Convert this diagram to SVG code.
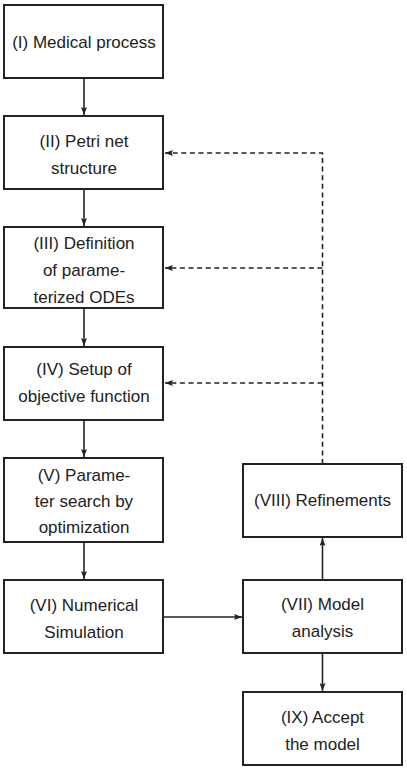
<svg xmlns="http://www.w3.org/2000/svg" width="407" height="770" viewBox="0 0 407 770">
<style>
.box{fill:#fff;stroke:#222;stroke-width:2}
.t{font-family:"Liberation Sans",Arial,sans-serif;font-size:17px;fill:#222;text-anchor:middle}
.c{fill:none;stroke:#222;stroke-width:1.6}
.d{fill:none;stroke:#222;stroke-width:1.6;stroke-dasharray:5 3.6}
</style>
<defs>
<marker id="ah" viewBox="0 0 8 6" refX="8" refY="3" markerWidth="8" markerHeight="6" markerUnits="userSpaceOnUse" orient="auto">
<path d="M0,0 L8,3 L0,6 L1.5,3 Z" fill="#222"/>
</marker>
</defs>
<rect width="407" height="770" fill="#fff"/>
<g id="connectors">
<line class="c" x1="84" y1="78" x2="84" y2="115" marker-end="url(#ah)"/>
<line class="c" x1="84" y1="189" x2="84" y2="226" marker-end="url(#ah)"/>
<line class="c" x1="84" y1="308" x2="84" y2="346" marker-end="url(#ah)"/>
<line class="c" x1="84" y1="420" x2="84" y2="457" marker-end="url(#ah)"/>
<line class="c" x1="84" y1="542" x2="84" y2="579" marker-end="url(#ah)"/>
<line class="c" x1="163" y1="617" x2="242" y2="617" marker-end="url(#ah)"/>
<line class="c" x1="322.5" y1="580" x2="322.5" y2="538" marker-end="url(#ah)"/>
<line class="c" x1="322.5" y1="653" x2="322.5" y2="691" marker-end="url(#ah)"/>
<path class="d" d="M322.5,464 L322.5,153 L165,153" marker-end="url(#ah)"/>
<line class="d" x1="322.5" y1="268" x2="165" y2="268" marker-end="url(#ah)"/>
<line class="d" x1="322.5" y1="383" x2="165" y2="383" marker-end="url(#ah)"/>
</g>
<g id="n1"><rect class="box" x="4" y="5" width="159" height="73"/><text class="t" x="84" y="47.5">(I) Medical process</text></g>
<g id="n2"><rect class="box" x="4" y="116" width="159" height="73"/><text class="t" x="84" y="147">(II) Petri net</text><text class="t" x="84" y="173.5">structure</text></g>
<g id="n3"><rect class="box" x="4" y="227" width="159" height="81"/><text class="t" x="84" y="249">(III) Definition</text><text class="t" x="84" y="276">of parame-</text><text class="t" x="84" y="303">terized ODEs</text></g>
<g id="n4"><rect class="box" x="4" y="347" width="159" height="73"/><text class="t" x="84" y="375">(IV) Setup of</text><text class="t" x="84" y="401.5">objective function</text></g>
<g id="n5"><rect class="box" x="4" y="458" width="159" height="84"/><text class="t" x="84" y="480.5">(V) Parame-</text><text class="t" x="84" y="506.5">ter search by</text><text class="t" x="84" y="532.5">optimization</text></g>
<g id="n6"><rect class="box" x="4" y="580" width="159" height="73"/><text class="t" x="84" y="611">(VI) Numerical</text><text class="t" x="84" y="638">Simulation</text></g>
<g id="n7"><rect class="box" x="243" y="580" width="159" height="73"/><text class="t" x="322.5" y="610">(VII) Model</text><text class="t" x="322.5" y="636.5">analysis</text></g>
<g id="n8"><rect class="box" x="243" y="464" width="159" height="73"/><text class="t" x="322.5" y="506">(VIII) Refinements</text></g>
<g id="n9"><rect class="box" x="243" y="692" width="159" height="73"/><text class="t" x="322.5" y="723">(IX) Accept</text><text class="t" x="322.5" y="749.5">the model</text></g>
</svg>
